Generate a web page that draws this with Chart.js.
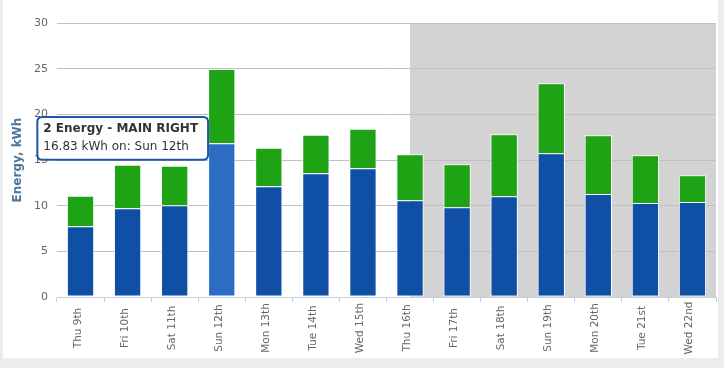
<!DOCTYPE html>
<html>
<head>
<meta charset="utf-8">
<script src="https://cdn.jsdelivr.net/npm/chart.js@4"></script>
<style>
  body { margin: 0; background: #ececec; }
  #box { position: absolute; left: 3px; top: 0; width: 715px; height: 358px; background: #fff; }
</style>
</head>
<body>
<div id="box"><canvas id="energy"></canvas></div>
<script>
var days = ["Thu 9th", "Fri 10th", "Sat 11th", "Sun 12th", "Mon 13th", "Tue 14th", "Wed 15th",
            "Thu 16th", "Fri 17th", "Sat 18th", "Sun 19th", "Mon 20th", "Tue 21st", "Wed 22nd"];
var mainRight = [7.74, 9.71, 10.04, 16.83, 12.12, 13.54, 14.09, 10.59, 9.82, 11.03, 15.73, 11.28, 10.29, 10.40];
var mainLeft = [3.35, 4.78, 4.34, 8.13, 4.23, 4.23, 4.34, 5.03, 4.71, 6.78, 7.67, 6.42, 5.22, 2.92];
var yTicks = [0, 5, 10, 15, 20, 25, 30];
var bandFrom = "Thu 16th";
var hoverDay = "Sun 12th";

var font = "'DejaVu Sans', Verdana, sans-serif";

// grey band behind the later days
var bandPlugin = {
  id: "band",
  beforeDraw: function(chart) {
    var area = chart.chartArea;
    var x0 = chart.scales.x.getPixelForValue(days.indexOf(bandFrom));
    var ctx = chart.ctx;
    ctx.save();
    ctx.fillStyle = "#d3d3d3";
    ctx.fillRect(x0, area.top, area.right - x0, area.bottom - area.top);
    ctx.restore();
  }
};

// rotated day labels, centred under the axis like the original
var dayLabels = {
  id: "dayLabels",
  afterDatasetsDraw: function(chart) {
    var xs = chart.scales.x;
    var ctx = chart.ctx;
    ctx.save();
    ctx.font = "10.5px " + font;
    ctx.fillStyle = "#666";
    ctx.textAlign = "center";
    ctx.textBaseline = "alphabetic";
    days.forEach(function(d, i) {
      ctx.save();
      ctx.translate(xs.getPixelForTick(i), chart.chartArea.bottom + 31);
      ctx.rotate(-Math.PI / 2);
      ctx.fillText(d, 0, 0);
      ctx.restore();
    });
    ctx.restore();
  }
};

Chart.Tooltip.positioners.barLeft = function(items) {
  if (!items.length) return false;
  var el = items[0].element;
  return { x: el.x - el.width / 2, y: el.y - 5, xAlign: "right", yAlign: "center" };
};

var chart = new Chart("energy", {
  type: "bar",
  data: {
    labels: days,
    datasets: [{
      label: "2 Energy - MAIN RIGHT",
      data: mainRight,
      backgroundColor: "#0f4fa6",
      hoverBackgroundColor: "#2c6cc4",
      borderColor: "#ffffff",
      hoverBorderColor: "#ffffff",
      borderWidth: 1,
      borderSkipped: false
    }, {
      label: "1 Energy - MAIN LEFT",
      data: mainLeft,
      backgroundColor: "#1ea315",
      hoverBackgroundColor: "#1ea315",
      borderColor: "#ffffff",
      hoverBorderColor: "#ffffff",
      borderWidth: {top: 1, left: 1, right: 1, bottom: 0},
      borderSkipped: false
    }]
  },
  options: {
    responsive: true,
    maintainAspectRatio: false,
    animation: false,
    events: [],
    layout: { padding: { top: 23, right: 2, left: 0, bottom: 0 } },
    datasets: { bar: { categoryPercentage: 1, barPercentage: 0.58 } },
    plugins: {
      legend: { display: false },
      tooltip: {
        position: "barLeft",
        xAlign: "right",
        yAlign: "center",
        caretSize: 0,
        caretPadding: 0,
        backgroundColor: "rgba(255,255,255,0.96)",
        borderColor: "#1c56a6",
        borderWidth: 2,
        cornerRadius: 5,
        padding: { left: 6, right: 10, top: 5, bottom: 6 },
        displayColors: false,
        titleColor: "#333",
        bodyColor: "#333",
        titleFont: { family: font, size: 12, weight: "bold" },
        bodyFont: { family: font, size: 12 },
        titleMarginBottom: 3,
        callbacks: {
          title: function(items) { return items[0].dataset.label; },
          label: function(item) { return item.parsed.y.toFixed(2) + " kWh on: " + item.label; }
        }
      }
    },
    scales: {
      x: {
        stacked: true,
        grid: { offset: true, drawOnChartArea: false, drawTicks: true, tickLength: 5, color: "#c0d0e0" },
        border: { color: "#c0d0e0" },
        ticks: { display: false, autoSkip: false },
        afterFit: function(scale) { scale.height = 61; }
      },
      y: {
        stacked: true,
        min: 0,
        max: 30,
        afterBuildTicks: function(scale) { scale.ticks = yTicks.map(function(v) { return { value: v }; }); },
        grid: { color: "#c0c0c0", drawTicks: false },
        border: { display: false },
        ticks: { padding: 9, color: "#666", font: { family: font, size: 11 } },
        title: {
          display: true,
          text: "Energy, kWh",
          color: "#4d759e",
          font: { family: font, size: 12, weight: "bold" },
          padding: { top: 8, bottom: 0 }
        },
        afterFit: function(scale) { scale.width = 54; }
      }
    }
  },
  plugins: [bandPlugin, dayLabels]
});

var active = [{ datasetIndex: 0, index: days.indexOf(hoverDay) }];
chart.setActiveElements(active);
chart.tooltip.setActiveElements(active, { x: 0, y: 0 });
chart.update();
</script>
</body>
</html>
